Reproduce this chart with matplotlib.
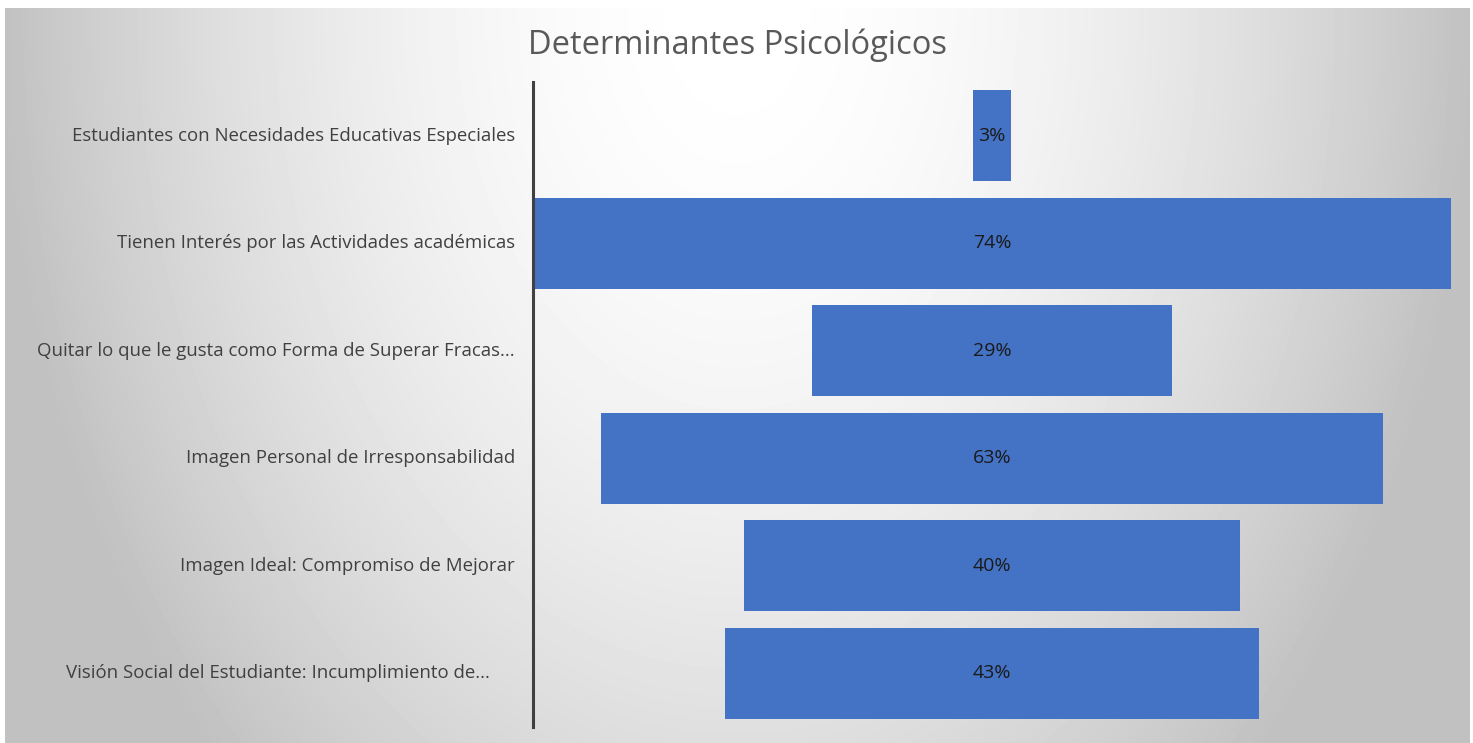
# -*- coding: utf-8 -*-
"""
Determinantes Psicologicos - funnel chart (centered horizontal bars)
"""
import matplotlib.pyplot as plt
import numpy as np

#%% Data #####################################################################

categories = ["Estudiantes con Necesidades Educativas Especiales",
              "Tienen Interés por las Actividades académicas",
              "Quitar lo que le gusta como Forma de Superar Fracas...",
              "Imagen Personal de Irresponsabilidad",
              "Imagen Ideal: Compromiso de Mejorar",
              "Visión Social del Estudiante: Incumplimiento de..."]
values = [3, 74, 29, 63, 40, 43]
title = "Determinantes Psicológicos"

#%% Figure ###################################################################

W, H = 1473, 743
plt.rcParams['font.family'] = ['Open Sans', 'DejaVu Sans']
fig = plt.figure(figsize=(W / 100, H / 100), dpi=100)
fig.patch.set_facecolor('white')

# background gradient (white at top centre, gray towards the corners)
bg = fig.add_axes([0, 0, 1, 1], zorder=0)
x0, x1, y0, y1 = 5, 1470, 8, 743
xx, yy = np.meshgrid(np.arange(x0, x1), np.arange(y0, y1))
t = np.sqrt(((xx - 736) / 735.0) ** 2 + ((yy - y0) / 1050.0) ** 2)
t = np.clip(t, 0, 1)
shade = (255 - 62 * t ** 1.8) / 255.0
bg.imshow(shade, cmap='gray', vmin=0, vmax=1, aspect='auto',
          extent=(x0, x1, H - y1, H - y0), interpolation='bilinear')
bg.set_xlim(0, W)
bg.set_ylim(0, H)
bg.axis('off')

# main axes
ax = fig.add_axes([533 / W, (H - 727) / H, 918 / W, 645 / H], zorder=1)
ax.patch.set_alpha(0)

vmax = max(values)
pos = np.arange(len(categories))
bars = ax.barh(pos, values, left=[-v / 2 for v in values], height=0.85,
               color='#4472C4')
ax.set_xlim(-vmax / 2, vmax / 2)
ax.set_ylim(len(categories) - 0.5, -0.5)

for b, v in zip(bars, values):
    ax.text(0, b.get_y() + b.get_height() / 2, "{}%".format(v),
            ha='center', va='center', fontsize=14, color='#1a1a1a')

# category labels on the left of the axis line
for i, c in enumerate(categories):
    shift = -25 if c.endswith("de...") else 0
    ax.annotate(c, xy=(0, i), xycoords=('axes fraction', 'data'),
                xytext=(-18 + shift, 0), textcoords='offset pixels',
                ha='right', va='center', fontsize=13.4, color='#404040')

for s in ['top', 'right', 'bottom']:
    ax.spines[s].set_visible(False)
ax.spines['left'].set_color('#404040')
ax.spines['left'].set_linewidth(2.2)
ax.set_xticks([])
ax.set_yticks([])

fig.text(738 / W, 1 - 45 / H, title, ha='center', va='center',
         fontsize=23.5, color='#595959')

fig.savefig('out.png', dpi=100)
